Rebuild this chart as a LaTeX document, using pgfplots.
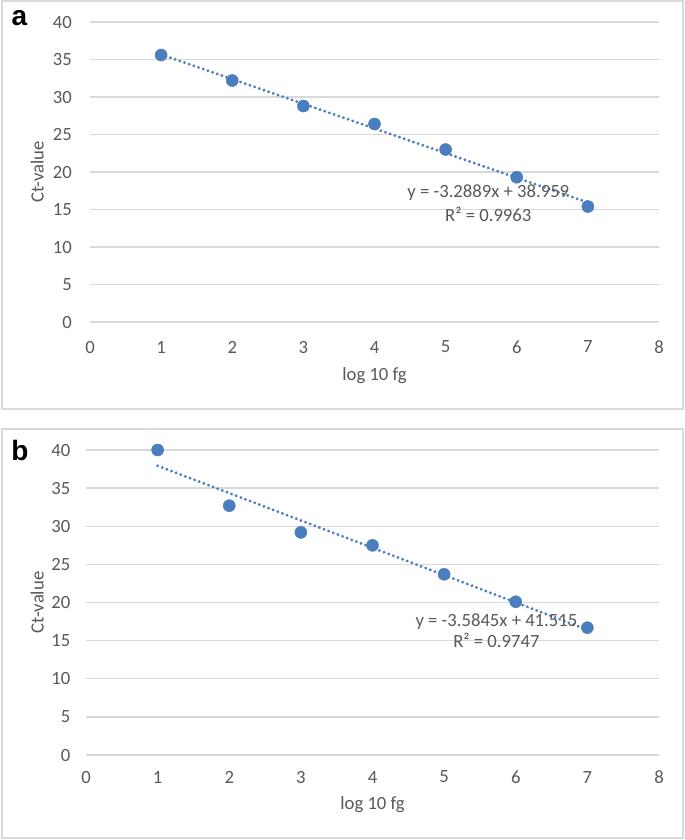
\documentclass[border=0pt]{standalone}
\usepackage{pgfplots}
\pgfplotsset{compat=1.18}
\usepackage{fontspec}
\setmainfont{Carlito}
\newfontfamily\arialbold{Liberation Sans}
\definecolor{txtgray}{HTML}{595959}
\definecolor{gridgray}{HTML}{D9D9D9}
\definecolor{framegray}{HTML}{D9D9D9}
\definecolor{ptblue}{RGB}{74,126,190}

\pgfplotstableread{
x y
1 35.6
2 32.2
3 28.8
4 26.4
5 23.0
6 19.3
7 15.4
}\dataA
\pgfplotstableread{
x y
1 35.670
7 15.936
}\fitA
\pgfplotstableread{
x y
1 40.0
2 32.7
3 29.2
4 27.5
5 23.7
6 20.1
7 16.7
}\dataB
\pgfplotstableread{
x y
1 37.931
7 16.424
}\fitB

\pgfplotsset{
  ctstyle/.style={
    scale only axis,
    anchor=south west,
    xmin=0, xmax=8, ymin=0, ymax=40,
    xtick={0,1,...,8}, ytick={0,5,...,40},
    axis lines=left,
    axis line style={draw=none,-},
    major tick length=0pt,
    ymajorgrids=true,
    grid style={draw=gridgray, line width=1.1pt},
    tick label style={font=\fontsize{14}{16}\selectfont, text=txtgray},
    label style={font=\fontsize{14}{16}\selectfont, text=txtgray},
    /pgf/number format/assume math mode=true,
    ylabel={Ct-value},
    xlabel={log 10 fg},
    clip=false,
  }
}

\begin{document}
\begin{tikzpicture}
\path[fill=white] (0pt,0pt) rectangle (513.75pt,-630pt);
\draw[framegray, line width=1.1pt] (1.5pt,-0.75pt) rectangle (512.25pt,-306.75pt);
\draw[framegray, line width=1.1pt] (1.5pt,-321.75pt) rectangle (512.25pt,-628.5pt);
\node[font=\arialbold\bfseries\fontsize{21}{24}\selectfont, anchor=center] at (14.5pt,-13.5pt) {a};
\node[font=\arialbold\bfseries\fontsize{21}{24}\selectfont, anchor=center] at (15pt,-337.5pt) {b};

% Panel a
\begin{axis}[ctstyle,
  at={(67.5pt,-241.5pt)},
  width=426.75pt, height=225pt,
  xticklabel style={anchor=center, yshift=-18.75pt},
  yticklabel style={anchor=east, inner sep=0pt, xshift=-13.5pt},
  xlabel style={at={(axis description cs:0.5,0)}, anchor=center, yshift=-40.5pt},
  ylabel style={at={(axis description cs:0,0.5)}, anchor=center, yshift=39.5pt},
]
\addplot[ptblue, line width=2.4pt, dash pattern=on 0.01pt off 3.7pt, line cap=round] table[x=x,y=y] {\fitA};
\addplot[only marks, mark=*, mark size=4.5pt, mark options={fill=ptblue, draw=ptblue}] table[x=x,y=y] {\dataA};
\node[font=\fontsize{14}{16}\selectfont, text=txtgray, anchor=center] at (axis cs:5.6,17.2) {y = -3.2889x + 38.959};
\node[font=\fontsize{14}{16}\selectfont, text=txtgray, anchor=center] at (axis cs:5.6,14.3) {R² = 0.9963};
\end{axis}

% Panel b
\begin{axis}[ctstyle,
  at={(64.5pt,-566.25pt)},
  width=429.75pt, height=228.75pt,
  xticklabel style={anchor=center, yshift=-16.5pt},
  yticklabel style={anchor=east, inner sep=0pt, xshift=-11.5pt},
  xlabel style={at={(axis description cs:0.5,0)}, anchor=center, yshift=-37.5pt},
  ylabel style={at={(axis description cs:0,0.5)}, anchor=center, yshift=36.5pt},
]
\addplot[ptblue, line width=2.4pt, dash pattern=on 0.01pt off 3.7pt, line cap=round] table[x=x,y=y] {\fitB};
\addplot[only marks, mark=*, mark size=4.5pt, mark options={fill=ptblue, draw=ptblue}] table[x=x,y=y] {\dataB};
\node[font=\fontsize{14}{16}\selectfont, text=txtgray, anchor=center] at (axis cs:5.73,17.5) {y = -3.5845x + 41.515};
\node[font=\fontsize{14}{16}\selectfont, text=txtgray, anchor=center] at (axis cs:5.73,15.0) {R² = 0.9747};
\end{axis}
\end{tikzpicture}
\end{document}
